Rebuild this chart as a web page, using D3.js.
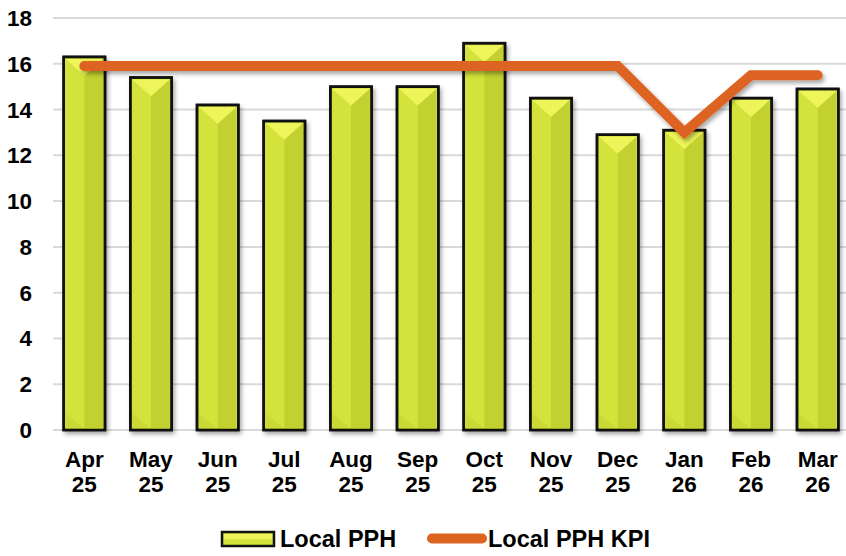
<!DOCTYPE html>
<html>
<head>
<meta charset="utf-8">
<script src="https://cdn.jsdelivr.net/npm/d3@7"></script>
<style>
  body { margin: 0; background: #fff; }
  text { font-family: "Liberation Sans", Arial, sans-serif; font-weight: bold; fill: #000; }
</style>
</head>
<body>
<script>
var months = ["Apr", "May", "Jun", "Jul", "Aug", "Sep", "Oct", "Nov", "Dec", "Jan", "Feb", "Mar"]
var years = ["25", "25", "25", "25", "25", "25", "25", "25", "25", "26", "26", "26"]
var pph = [16.3, 15.4, 14.2, 13.5, 15.0, 15.0, 16.9, 14.5, 12.9, 13.1, 14.5, 14.9]
var kpi = [15.9, 15.9, 15.9, 15.9, 15.9, 15.9, 15.9, 15.9, 15.9, 13.0, 15.5, 15.5]
var yTicks = [0, 2, 4, 6, 8, 10, 12, 14, 16, 18]

var width = 846, height = 556

var svg = d3.select("body").append("svg")
    .attr("width", width)
    .attr("height", height)

var defs = svg.append("defs")
var sh = defs.append("filter").attr("id", "shadow")
    .attr("x", "-20%").attr("y", "-20%").attr("width", "150%").attr("height", "150%")
sh.append("feDropShadow")
    .attr("dx", 2).attr("dy", 3).attr("stdDeviation", 2)
    .attr("flood-color", "#000").attr("flood-opacity", 0.35)

var x = d3.scaleBand()
    .domain(months)
    .range([51, 851])
    .paddingInner(0.38)
    .paddingOuter(0.19)

var y = d3.scaleLinear()
    .domain([0, 18])
    .range([430, 18])

// grid
svg.append("g")
    .selectAll("line")
    .data(yTicks)
    .enter().append("line")
    .attr("x1", 53)
    .attr("x2", width)
    .attr("y1", function(d) { return y(d) })
    .attr("y2", function(d) { return y(d) })
    .attr("stroke", "#d9d9d9")
    .attr("stroke-width", 2)

// y tick labels
svg.append("g")
    .selectAll("text")
    .data(yTicks)
    .enter().append("text")
    .attr("x", 32)
    .attr("y", function(d) { return y(d) + 8 })
    .attr("text-anchor", "end")
    .style("font-size", "22.5px")
    .text(function(d) { return d })

// bevelled bar drawing
function drawBar(g, x0, y0, w, h) {
    var inset = 2
    var l = x0 + inset, r = x0 + w - inset, t = y0 + inset, b = y0 + h
    var cx = (l + r) / 2, dep = (r - l) * 0.45
    g.append("rect")
        .attr("x", x0).attr("y", y0).attr("width", w).attr("height", h)
        .attr("fill", "#d3e33b")
        .attr("stroke", "#111").attr("stroke-width", 2.5)
        .attr("filter", "url(#shadow)")
    // right face
    g.append("polygon")
        .attr("points", [[cx, t + dep], [r, t], [r, b], [cx, b]].join(" "))
        .attr("fill", "#c3d130")
    // bottom-left face
    g.append("polygon")
        .attr("points", [[l, b - Math.min(dep, h) ], [cx, b - Math.min(dep, h) * 0.05], [cx, b], [l, b]].join(" "))
        .attr("fill", "#c8d634")
        .attr("opacity", 0.8)
    // top face
    if (h > dep + 4) {
        g.append("polygon")
            .attr("points", [[l, t], [r, t], [cx, t + dep]].join(" "))
            .attr("fill", "#eef55a")
    }
    g.append("rect")
        .attr("x", x0).attr("y", y0).attr("width", w).attr("height", h)
        .attr("fill", "none")
        .attr("stroke", "#111").attr("stroke-width", 2.5)
}

var bars = svg.append("g")
pph.forEach(function(v, i) {
    var g = bars.append("g")
    drawBar(g, x(months[i]), y(v), x.bandwidth(), y(0) - y(v))
})

// KPI line
var line = d3.line()
    .x(function(d, i) { return x(months[i]) + x.bandwidth() / 2 })
    .y(function(d) { return y(d) })

svg.append("path")
    .datum(kpi)
    .attr("d", line)
    .attr("fill", "none")
    .attr("stroke", "#dd6420")
    .attr("stroke-width", 10)
    .attr("stroke-linecap", "round")
    .attr("stroke-linejoin", "miter")
    .attr("filter", "url(#shadow)")

// x labels
var xl = svg.append("g")
    .selectAll("text")
    .data(months)
    .enter().append("text")
    .attr("text-anchor", "middle")
    .style("font-size", "22.5px")
xl.append("tspan")
    .attr("x", function(d) { return x(d) + x.bandwidth() / 2 })
    .attr("y", 467)
    .text(function(d) { return d })
xl.append("tspan")
    .attr("x", function(d) { return x(d) + x.bandwidth() / 2 })
    .attr("y", 492)
    .text(function(d, i) { return years[i] })

// legend
var leg = svg.append("g")
var lg1 = leg.append("g")
lg1.append("rect")
    .attr("x", 222).attr("y", 532).attr("width", 52).attr("height", 14)
    .attr("fill", "#d3e33b").attr("stroke", "#111").attr("stroke-width", 2.5)
lg1.append("rect")
    .attr("x", 224).attr("y", 534).attr("width", 48).attr("height", 5)
    .attr("fill", "#eef55a")
leg.append("text")
    .attr("x", 280).attr("y", 546.5)
    .style("font-size", "23.5px")
    .text("Local PPH")
leg.append("line")
    .attr("x1", 432).attr("x2", 482)
    .attr("y1", 538.5).attr("y2", 538.5)
    .attr("stroke", "#dd6420").attr("stroke-width", 10)
    .attr("stroke-linecap", "round")
leg.append("text")
    .attr("x", 488).attr("y", 546.5)
    .style("font-size", "23.5px")
    .text("Local PPH KPI")
</script>
</body>
</html>
